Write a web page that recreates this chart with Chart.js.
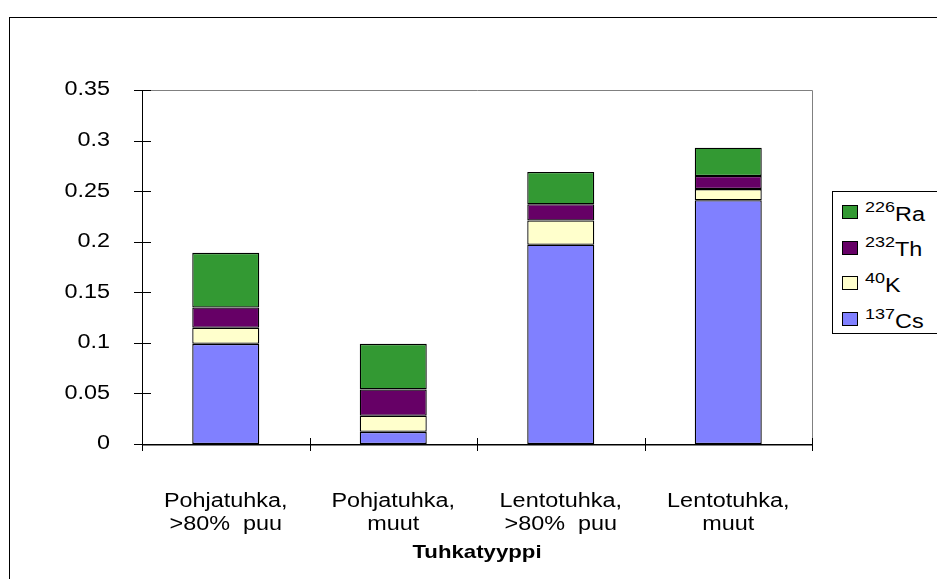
<!DOCTYPE html>
<html>
<head>
<meta charset="utf-8">
<script src="https://cdn.jsdelivr.net/npm/chart.js@4.4.1/dist/chart.umd.min.js"></script>
<style>
    html, body { margin: 0; padding: 0; background: #fff; overflow: hidden; }
    #wrap { position: relative; width: 937px; height: 579px; }
    #legend {
        position: absolute; left: 832px; top: 191px; width: 130px; height: 141px;
        border: 1px solid #000; background: #fff;
        font-family: "Liberation Sans", Arial, sans-serif; font-size: 19.5px; color: #000;
    }
    .item { position: absolute; left: 9px; height: 22px; display: flex; align-items: center; white-space: nowrap; }
    .sw { width: 14px; height: 12px; border: 1px solid #000; margin-right: 7px; }
    .txt { display: inline-block; transform: scaleX(1.2); transform-origin: left center; }
    .txt sup { font-size: 15px; position: relative; top: -1px; }
</style>
</head>
<body>
<div id="wrap">
    <canvas id="ashChart" width="937" height="579"></canvas>
    <div id="legend"></div>
</div>
<script>
const categories = [['Pohjatuhka,', '>80%  puu'], ['Pohjatuhka,', 'muut'], ['Lentotuhka,', '>80%  puu'], ['Lentotuhka,', 'muut']];
const cs137 = [0.099, 0.012, 0.197, 0.241];
const k40 = [0.016, 0.016, 0.024, 0.011];
const th232 = [0.020, 0.026, 0.016, 0.013];
const ra226 = [0.054, 0.045, 0.032, 0.028];
const massNumbers = ['137', '40', '232', '226'];
const elements = ['Cs', 'K', 'Th', 'Ra'];
const colors = ['#8080ff', '#ffffcc', '#660066', '#339933'];
const axisTitle = 'Tuhkatyyppi';

const FONT = '"Liberation Sans", Arial, sans-serif';
const TEXT_STRETCH = 1.2; // the original's text is drawn wider than it is tall
const series = [cs137, k40, th232, ra226];

// widen every canvas text around its anchor point
const stretchText = {
    id: 'stretchText',
    beforeDraw(chart) {
        const ctx = chart.ctx;
        if (ctx._stretched) return;
        const fill = ctx.fillText.bind(ctx);
        ctx.fillText = (text, x, y) => {
            ctx.save();
            ctx.translate(x, y);
            ctx.scale(TEXT_STRETCH, 1);
            fill(text, 0, 0);
            ctx.restore();
        };
        ctx._stretched = true;
    }
};

// axes, crossing tick marks and frames
const frame = {
    id: 'frame',
    afterDatasetsDraw(chart) {
        const { ctx, chartArea: a, scales: { x, y } } = chart;
        ctx.save();
        ctx.lineWidth = 1;
        ctx.strokeStyle = '#000';
        ctx.strokeRect(9.5, 17.5, 1000, 1000);

        ctx.strokeStyle = '#808080';
        ctx.beginPath();
        ctx.moveTo(a.left, a.top + 0.5);
        ctx.lineTo(a.right + 0.5, a.top + 0.5);
        ctx.lineTo(a.right + 0.5, a.bottom);
        ctx.moveTo(a.left, a.bottom + 1.5);
        ctx.lineTo(a.right + 0.5, a.bottom + 1.5);
        ctx.stroke();

        ctx.strokeStyle = '#000';
        ctx.beginPath();
        ctx.moveTo(a.left + 0.5, a.top);
        ctx.lineTo(a.left + 0.5, a.bottom + 1);
        ctx.moveTo(a.left, a.bottom + 0.5);
        ctx.lineTo(a.right + 1, a.bottom + 0.5);
        y.ticks.forEach(t => {
            const py = Math.round(y.getPixelForValue(t.value)) + 0.5;
            ctx.moveTo(a.left - 8, py);
            ctx.lineTo(a.left + 9, py);
        });
        for (let i = 0; i <= categories.length; i++) {
            const px = Math.round(x.getPixelForValue(i - 0.5)) + 0.5;
            ctx.moveTo(px, a.bottom - 6);
            ctx.lineTo(px, a.bottom + 7);
        }
        ctx.stroke();
        ctx.restore();
    }
};

const chart = new Chart(document.getElementById('ashChart'), {
    type: 'bar',
    data: {
        labels: categories,
        datasets: series.map((d, i) => ({
            label: massNumbers[i] + elements[i],
            data: d,
            backgroundColor: colors[i],
            borderColor: '#000',
            borderWidth: 1.3,
            borderSkipped: false,
            barPercentage: 0.4,
            categoryPercentage: 1.0
        }))
    },
    options: {
        responsive: false,
        animation: false,
        layout: { padding: { left: 0, top: 90, right: 125, bottom: 0 } },
        plugins: { legend: { display: false }, tooltip: { enabled: false } },
        scales: {
            x: {
                stacked: true,
                grid: { display: false },
                border: { display: false },
                ticks: { color: '#000', font: { family: FONT, size: 19.5, lineHeight: 1.2 }, padding: 38, maxRotation: 0, autoSkip: false },
                title: { display: true, text: axisTitle, color: '#000', font: { family: FONT, size: 18.5, weight: 'bold' }, padding: { top: 0, bottom: 15 } },
                afterFit(s) { s.height = 135; }
            },
            y: {
                stacked: true,
                min: 0,
                max: 0.35,
                grid: { display: false },
                border: { display: false },
                ticks: {
                    stepSize: 0.05, color: '#000', font: { family: FONT, size: 19.5 }, padding: 24,
                    callback: v => String(+v.toFixed(2))
                },
                afterFit(s) { s.width = 142; }
            }
        }
    },
    plugins: [stretchText, frame]
});

// legend, top to bottom in the reverse of the stacking order
const legend = document.getElementById('legend');
for (let i = series.length - 1, row = 0; i >= 0; i--, row++) {
    const item = document.createElement('div');
    item.className = 'item';
    item.style.top = (9 + row * 35.7) + 'px';
    item.innerHTML = '<span class="sw" style="background:' + colors[i] + '"></span>'
        + '<span class="txt"><sup>' + massNumbers[i] + '</sup>' + elements[i] + '</span>';
    legend.appendChild(item);
}
</script>
</body>
</html>
